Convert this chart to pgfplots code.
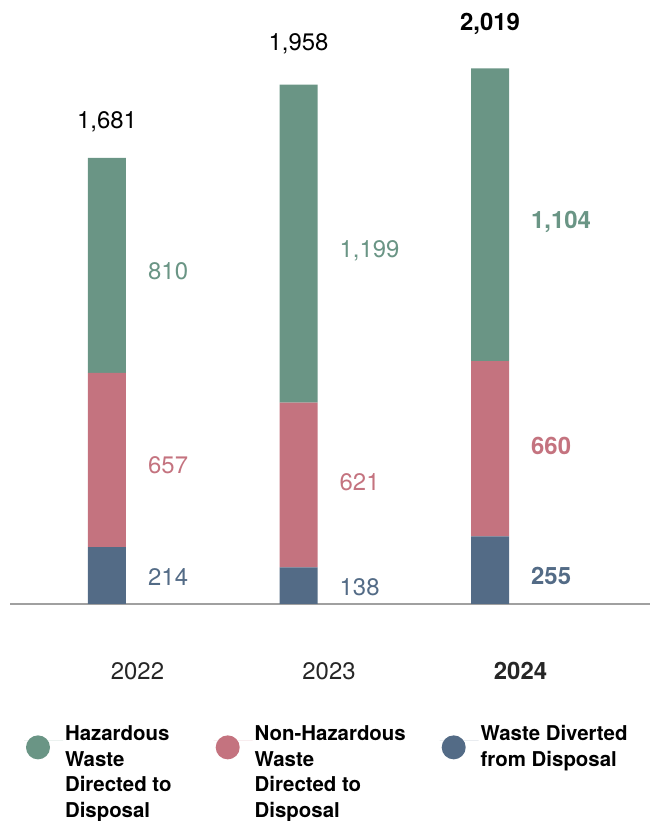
\documentclass[border=0pt]{standalone}
\usepackage{pgfplots}
\pgfplotsset{compat=1.18}
\usepackage{fontspec}
\setmainfont{TeX Gyre Heros}
\definecolor{hazc}{HTML}{6A9585}
\definecolor{nonc}{HTML}{C4737F}
\definecolor{divc}{HTML}{536B86}
\definecolor{axgray}{HTML}{A0A0A0}
\newcommand{\vfont}{\fontsize{24}{28}\selectfont}
\newcommand{\lfont}{\fontsize{20.5}{25.6}\selectfont}
\begin{document}
\begin{tikzpicture}
\useasboundingbox (0,0) rectangle (651bp,821bp);
\pgfplotsset{base/.style={at={(10bp,217bp)}, anchor=south west, scale only axis,
  width=640bp, height=583.7bp, xmin=-0.5065, xmax=2.8355, ymin=0, ymax=2200, clip=false}}
\begin{axis}[base, ybar stacked, bar width=38bp,
  axis x line*=bottom, axis y line=none, ytick=\empty,
  x axis line style={-, draw=axgray, line width=1.2bp},
  xtick={0,1,2}, xticklabels={2022,2023,\textbf{2024}},
  xtick style={draw=none}, major tick length=0pt,
  xticklabel style={anchor=base, xshift=30.5bp, yshift=-75bp, font=\vfont, text=black!85},
  legend columns=3, reverse legend,
  legend style={at={(axis description cs:0.0219,-0.2050)}, anchor=north west,
    draw=none, fill=none, inner sep=0pt, outer sep=0pt, font=\lfont\bfseries,
    cells={anchor=base west, inner sep=0pt}, column sep=0pt},
]
\addplot[fill=divc, draw=none, legend image code/.code={\path (0,0)--(39bp,0); \fill[divc] (14bp,-6.5bp) circle (12bp);}]
  coordinates {(0,214) (1,138) (2,255)};
\addlegendentry{\parbox[t]{180bp}{\raggedright Waste Diverted\\from Disposal}}
\addplot[fill=nonc, draw=none, legend image code/.code={\path (0,0)--(39bp,0); \fill[nonc] (14bp,-6.5bp) circle (12bp);}]
  coordinates {(0,657) (1,621) (2,660)};
\addlegendentry{\parbox[t]{183bp}{\raggedright Non-Hazardous\\Waste\\Directed to\\Disposal}}
\addplot[fill=hazc, draw=none, legend image code/.code={\path (0,0)--(39bp,0); \fill[hazc] (14bp,-6.5bp) circle (12bp);}]
  coordinates {(0,810) (1,1199) (2,1104)};
\addlegendentry{\parbox[t]{146.7bp}{\raggedright Hazardous\\Waste\\Directed to\\Disposal}}
\end{axis}
\begin{axis}[base, hide axis]
\addplot[draw=none, mark=none, nodes near coords, point meta=explicit symbolic,
  nodes near coords style={anchor=west, inner sep=0pt, text depth=0pt, font=\vfont, text=hazc}]
  coordinates {(0.214,1255) [810] (1.214,1338) [{1,199}] (2.214,1449) [\textbf{1,104}]};
\addplot[draw=none, mark=none, nodes near coords, point meta=explicit symbolic,
  nodes near coords style={anchor=west, inner sep=0pt, text depth=0pt, font=\vfont, text=nonc}]
  coordinates {(0.214,522) [657] (1.214,461) [621] (2.214,597) [\textbf{660}]};
\addplot[draw=none, mark=none, nodes near coords, point meta=explicit symbolic,
  nodes near coords style={anchor=west, inner sep=0pt, text depth=0pt, font=\vfont, text=divc}]
  coordinates {(0.214,102) [214] (1.214,64) [138] (2.214,106) [\textbf{255}]};
\addplot[draw=none, mark=none, nodes near coords, point meta=explicit symbolic,
  nodes near coords style={anchor=base, inner sep=0pt, font=\vfont, text=black}]
  coordinates {(0,1793) [{1,681}] (1,2086) [{1,958}] (2,2160) [\textbf{2,019}]};
\end{axis}
\end{tikzpicture}
\end{document}
